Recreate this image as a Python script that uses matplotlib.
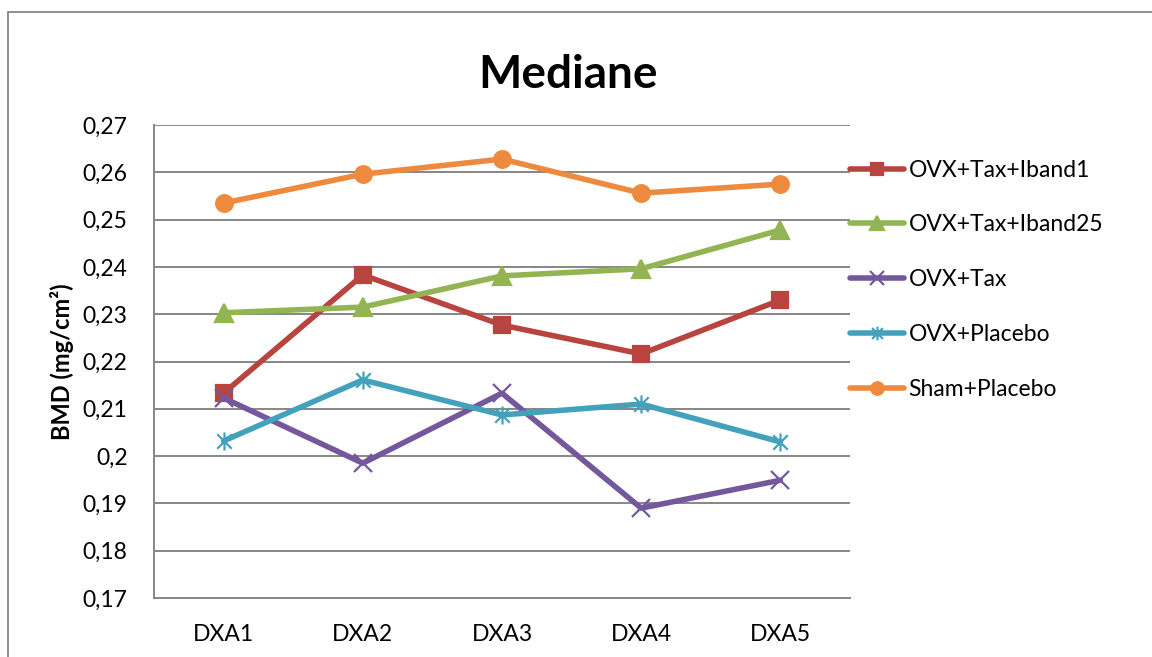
import matplotlib
matplotlib.use('Agg')
import matplotlib.pyplot as plt
from matplotlib.path import Path
from matplotlib.patches import Rectangle

plt.rcParams['font.family'] = ['Lato', 'DejaVu Sans']

# ---------- data ----------
categories = ['DXA1', 'DXA2', 'DXA3', 'DXA4', 'DXA5']
iband1 = [0.2133, 0.2383, 0.2277, 0.2216, 0.2330]
iband25 = [0.2303, 0.2315, 0.2381, 0.2396, 0.2478]
ovx_tax = [0.2123, 0.1985, 0.2133, 0.1890, 0.1949]
ovx_placebo = [0.2032, 0.2161, 0.2087, 0.2110, 0.2030]
sham_placebo = [0.2535, 0.2596, 0.2628, 0.2556, 0.2575]
y_ticks = [0.17, 0.18, 0.19, 0.20, 0.21, 0.22, 0.23, 0.24, 0.25, 0.26, 0.27]

# Excel-style "star" marker: an x plus a vertical bar
star_marker = Path(
    [(-1, -1), (1, 1), (-1, 1), (1, -1), (0, -1.25), (0, 1.25)],
    [Path.MOVETO, Path.LINETO, Path.MOVETO, Path.LINETO, Path.MOVETO, Path.LINETO],
)

series = [
    ('OVX+Tax+Iband1', iband1, '#B8443F', 's', 12),
    ('OVX+Tax+Iband25', iband25, '#93B452', '^', 13),
    ('OVX+Tax', ovx_tax, '#74589B', 'x', 13),
    ('OVX+Placebo', ovx_placebo, '#43A1BC', star_marker, 13),
    ('Sham+Placebo', sham_placebo, '#EE8A3D', 'o', 12),
]

fig = plt.figure(figsize=(11.52, 6.57), dpi=100)
ax = fig.add_axes([154 / 1152, 1 - 598 / 657, 696 / 1152, 473 / 657])

# outer chart border
fig.patches.append(Rectangle((8 / 1152, -0.05), 1.2, 1.05 - 12 / 657,
                             transform=fig.transFigure, fill=False,
                             edgecolor='#868686', linewidth=1.3))

x = list(range(len(categories)))
for name, vals, color, marker, ms in series:
    ax.plot(x, vals, color=color, linewidth=4.0, marker=marker, markersize=ms,
            markerfacecolor=color, markeredgecolor=color, markeredgewidth=1.6,
            label=name, solid_capstyle='round')

ax.set_xlim(-0.5, 4.5)
ax.set_ylim(0.17, 0.27)
ax.set_yticks(y_ticks)
ax.set_yticklabels([f'{v:g}'.replace('.', ',') for v in y_ticks])
ax.set_xticks(x)
ax.set_xticklabels(categories)
ax.tick_params(axis='both', length=0, labelsize=16.5, colors='black')
ax.tick_params(axis='y', pad=19)
ax.tick_params(axis='x', pad=19)

ax.grid(True, axis='y', color='#868686', linewidth=1.4)
ax.set_axisbelow(True)
for side in ['top', 'right']:
    ax.spines[side].set_visible(False)
for side in ['left', 'bottom']:
    ax.spines[side].set_color('#868686')
    ax.spines[side].set_linewidth(1.4)

ax.set_ylabel('BMD (mg/cm²)', fontsize=17, fontweight='bold', labelpad=6)
fig.text(568 / 1152, 1 - 75 / 657, 'Mediane', ha='center', va='center',
         fontsize=33, fontweight='bold')

ax.legend(loc='upper left', bbox_to_anchor=(1.0, 0.927), frameon=False,
          fontsize=16.5, handlelength=2.35, labelspacing=1.48, handletextpad=0.2,
          borderaxespad=0.0, borderpad=0.0, markerscale=0.75)

fig.savefig('out.png', dpi=100)
